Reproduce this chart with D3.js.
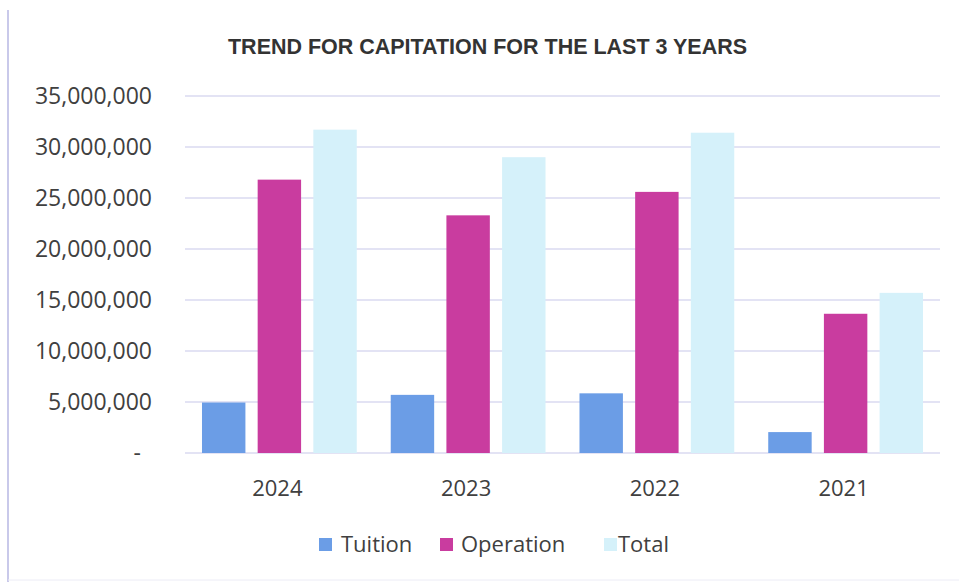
<!DOCTYPE html>
<html>
<head>
<meta charset="utf-8">
<script src="https://cdn.jsdelivr.net/npm/d3@7"></script>
<style>
  html, body { margin: 0; padding: 0; background: #fff; }
  svg { display: block; }
  text { font-family: "Open Sans", "Noto Sans", sans-serif; fill: #404040; }
</style>
</head>
<body>
<svg id="chart" width="959" height="582"></svg>
<script>
// ---- data ----
const categories = ["2024", "2023", "2022", "2021"];
const seriesNames = ["Tuition", "Operation", "Total"];
const tuition   = [4950000, 5700000, 5850000, 2050000];
const operation = [26800000, 23300000, 25600000, 13650000];
const total     = [31700000, 29000000, 31400000, 15700000];
const yTicks = [0, 5000000, 10000000, 15000000, 20000000, 25000000, 30000000, 35000000];
const colors = ["#6b9de6", "#c93c9f", "#d5f1fa"];
const title = "TREND FOR CAPITATION FOR THE LAST 3 YEARS";

const seriesValues = [tuition, operation, total];

const svg = d3.select("#chart");

// border (frame)
svg.append("line").attr("x1", 8).attr("x2", 8).attr("y1", 10).attr("y2", 582)
  .attr("stroke", "#c9c9ea").attr("stroke-width", 2);
svg.append("line").attr("x1", 8).attr("x2", 959).attr("y1", 580).attr("y2", 580)
  .attr("stroke", "#ececf6").attr("stroke-width", 1);

const x0 = d3.scaleBand().domain(categories).range([185, 940])
  .paddingInner(0.18).paddingOuter(0.09);
const x1 = d3.scaleBand().domain(seriesNames).range([0, x0.bandwidth()])
  .paddingInner(0.22);
const y = d3.scaleLinear().domain([0, 35000000]).range([453, 96]);

// gridlines
svg.append("g").selectAll("line").data(yTicks).join("line")
  .attr("x1", 185).attr("x2", 940)
  .attr("y1", d => y(d)).attr("y2", d => y(d))
  .attr("stroke", "#c8c8ea").attr("stroke-width", 1.2);

// y labels
const fmt = d3.format(",");
svg.append("g").selectAll("text").data(yTicks).join("text")
  .attr("x", d => d === 0 ? 141 : 152)
  .attr("y", d => y(d))
  .attr("dy", "0.36em")
  .attr("text-anchor", "end")
  .style("font-size", "23px")
  .text(d => d === 0 ? "-" : fmt(d));

// bars
const groups = svg.append("g").selectAll("g").data(categories).join("g")
  .attr("transform", c => `translate(${x0(c)},0)`);
groups.selectAll("rect")
  .data((c, i) => seriesNames.map((s, j) => ({ s, j, v: seriesValues[j][i] })))
  .join("rect")
  .attr("x", d => x1(d.s))
  .attr("width", x1.bandwidth())
  .attr("y", d => y(d.v))
  .attr("height", d => y(0) - y(d.v))
  .attr("fill", d => colors[d.j]);

// x labels
svg.append("g").selectAll("text").data(categories).join("text")
  .attr("x", c => x0(c) + x0.bandwidth() / 2 - 2)
  .attr("y", 496)
  .attr("text-anchor", "middle")
  .style("font-size", "22px")
  .text(c => c);

// title
svg.append("text")
  .attr("x", 228).attr("y", 54)
  .attr("textLength", 519).attr("lengthAdjust", "spacingAndGlyphs")
  .style("font-family", "'Liberation Sans', Arial, sans-serif")
  .style("font-weight", "bold")
  .style("font-size", "22px")
  .style("fill", "#333")
  .text(title);

// legend
const legendX = [319, 440, 604];
const legendTextDx = [22, 21, 14];
const legend = svg.append("g").selectAll("g").data(seriesNames).join("g")
  .attr("transform", (d, i) => `translate(${legendX[i]},538)`);
legend.append("rect").attr("width", 13).attr("height", 13)
  .attr("fill", (d, i) => colors[i]);
legend.append("text").attr("x", (d, i) => legendTextDx[i]).attr("y", 14)
  .style("font-size", "22px")
  .text(d => d);
</script>
</body>
</html>
